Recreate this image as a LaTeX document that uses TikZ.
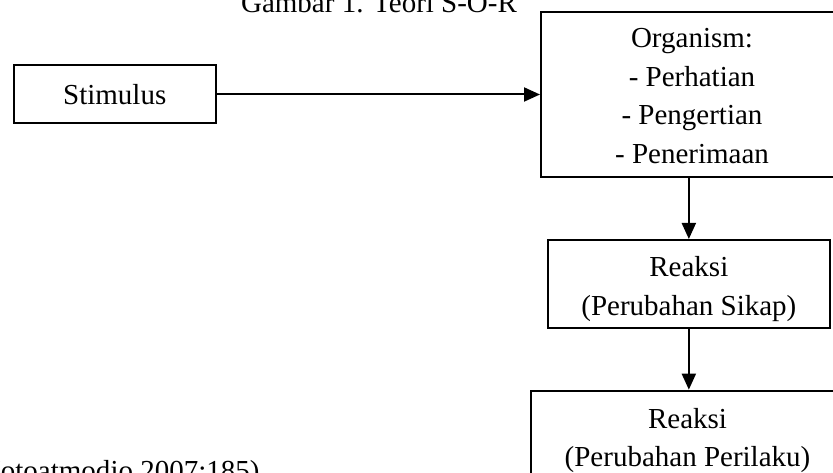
\documentclass[tikz,border=0pt]{standalone}
\usepackage{fontspec}
\setmainfont{Liberation Serif}
\usetikzlibrary{arrows.meta}
\tikzset{
  box/.style={draw, line width=2pt, align=center, inner sep=0pt},
  arr/.style={line width=2pt, -{Triangle[length=16pt,width=14pt]}},
  txt/.style={font=\fontsize{29}{38.5}\selectfont}
}
\begin{document}
\begin{tikzpicture}[x=1pt,y=-1pt,txt]
    \useasboundingbox (0,0) rectangle (833,473);
    \clip (0,0) rectangle (833,473);
    \node[anchor=base] (title) at (379,13) {Gambar 1. Teori S-O-R};
    \node[box, minimum width=201.5pt, minimum height=58pt] (stim) at (114.75,94.5) {Stimulus};
    \node[box, minimum width=302pt, minimum height=165pt] (org) at (692,94.2)
        {\rule{0pt}{23pt}Organism:\\- Perhatian\\- Pengertian\\- Penerimaan};
    \node[box, minimum width=282.3pt, minimum height=87.7pt] (sikap) at (688.85,283.85)
        {\rule{0pt}{30pt}Reaksi\\(Perubahan Sikap)};
    \node[box, minimum width=313pt, minimum height=88.7pt] (perilaku) at (687.5,435)
        {\rule{0pt}{31pt}Reaksi\\(Perubahan Perilaku)};
    \node[anchor=base east] (source) at (263,480) {(Notoatmodjo 2007:185)};
    \draw[arr] (stim.east) -- (stim.east -| org.west);
    \draw[arr] (sikap.north |- org.south) -- (sikap.north);
    \draw[arr] (sikap.south) -- (sikap.south |- perilaku.north);
\end{tikzpicture}
\end{document}
